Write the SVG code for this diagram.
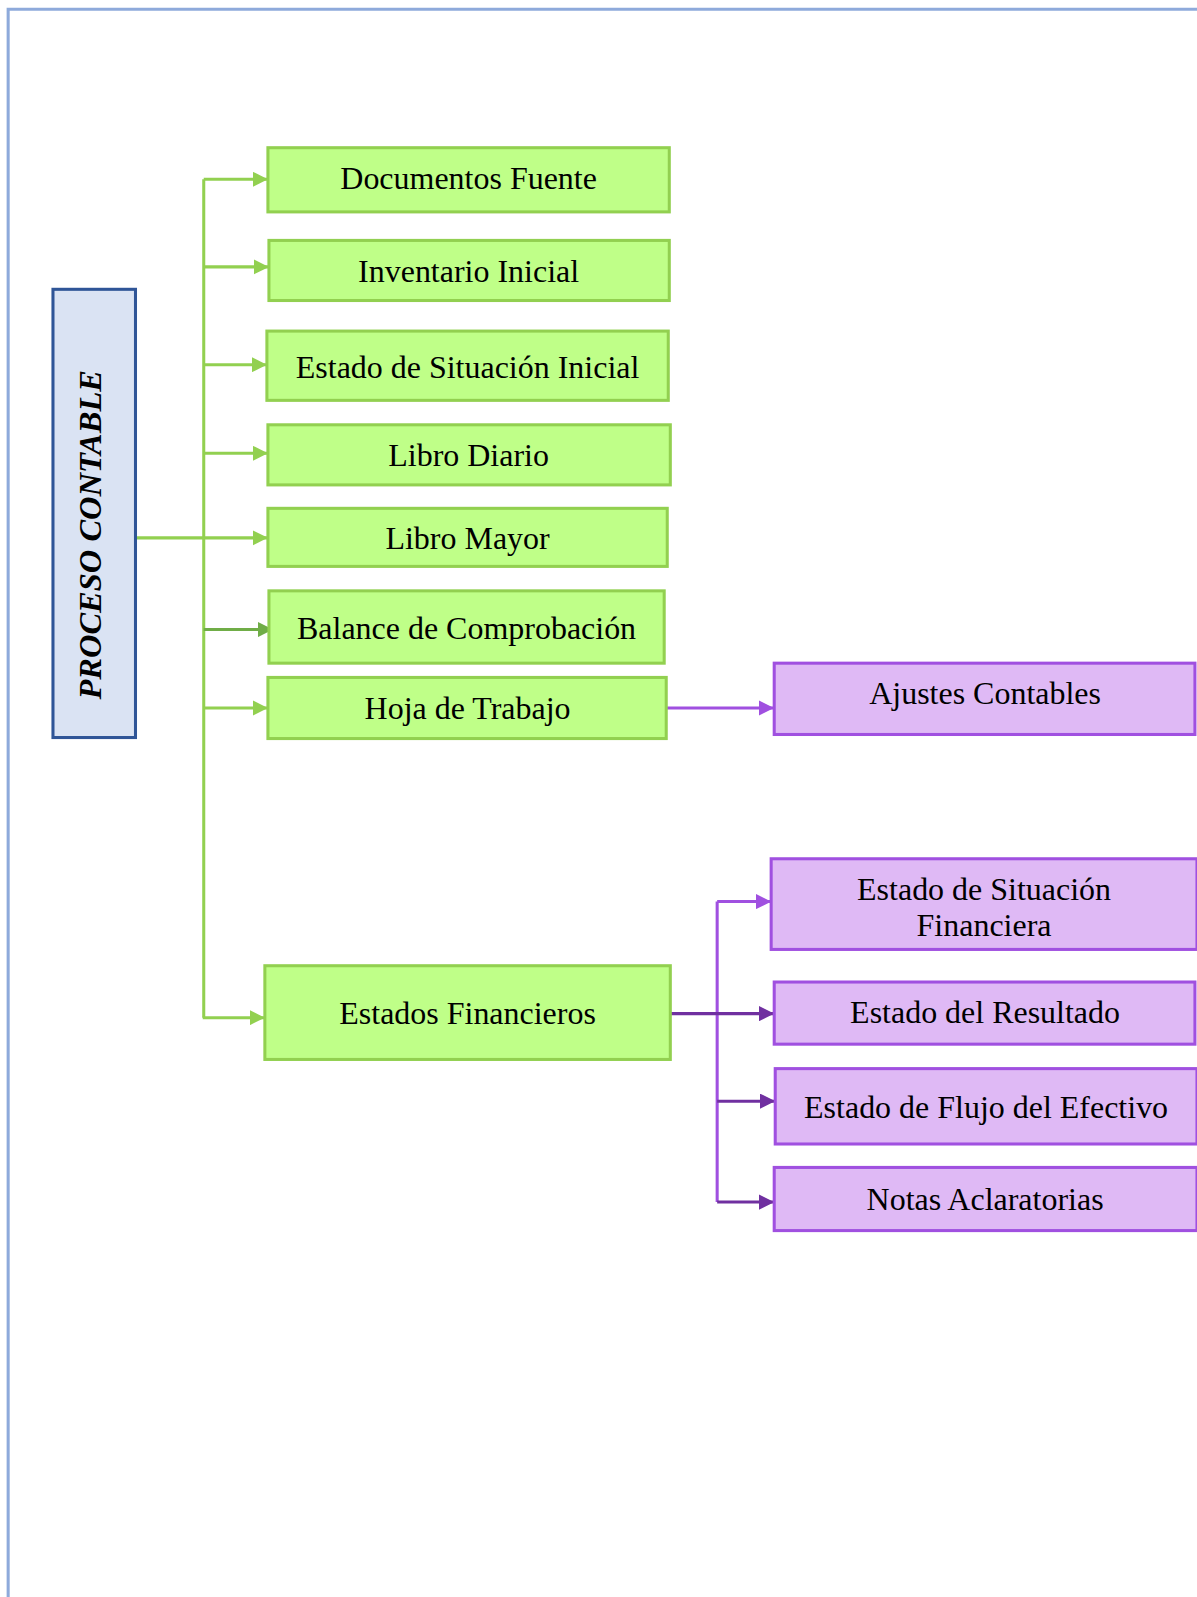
<svg xmlns="http://www.w3.org/2000/svg" width="1197" height="1597" viewBox="0 0 1197 1597">
<defs>
<style>
.g{fill:#bfff88;stroke:#92d050;stroke-width:3}
.p{fill:#dfb9f5;stroke:#a050e0;stroke-width:3}
.t{font-family:"Liberation Serif","Times New Roman",serif;font-size:31.4px;fill:#000;text-anchor:middle}
.cg{fill:none;stroke:#92d050;stroke-width:3}
.cgd{fill:none;stroke:#70ad47;stroke-width:3}
.cp{fill:none;stroke:#a050e0;stroke-width:3}
.cpd{fill:none;stroke:#7030a0;stroke-width:3}
</style>
<marker id="ag" viewBox="0 0 10 10" refX="10" refY="5" markerWidth="15" markerHeight="15" markerUnits="userSpaceOnUse" orient="auto"><path d="M0,0L10,5L0,10z" fill="#92d050"/></marker>
<marker id="agd" viewBox="0 0 10 10" refX="10" refY="5" markerWidth="15" markerHeight="15" markerUnits="userSpaceOnUse" orient="auto"><path d="M0,0L10,5L0,10z" fill="#70ad47"/></marker>
<marker id="ap" viewBox="0 0 10 10" refX="10" refY="5" markerWidth="15" markerHeight="15" markerUnits="userSpaceOnUse" orient="auto"><path d="M0,0L10,5L0,10z" fill="#a050e0"/></marker>
<marker id="apd" viewBox="0 0 10 10" refX="10" refY="5" markerWidth="15" markerHeight="15" markerUnits="userSpaceOnUse" orient="auto"><path d="M0,0L10,5L0,10z" fill="#7030a0"/></marker>
</defs>
<rect width="1197" height="1597" fill="#fff"/>
<g transform="scale(1.0187)">
<path d="M8,1570V9H1176" fill="none" stroke="#8eaadb" stroke-width="3"/>
<g id="connectors">
<path class="cg" d="M200,176V999"/>
<path class="cg" d="M200,176H263" marker-end="url(#ag)"/>
<path class="cg" d="M200,262H264" marker-end="url(#ag)"/>
<path class="cg" d="M200,358H262" marker-end="url(#ag)"/>
<path class="cg" d="M200,445H263" marker-end="url(#ag)"/>
<path class="cg" d="M133,528H263" marker-end="url(#ag)"/>
<path class="cgd" d="M200,618H268" marker-end="url(#agd)"/>
<path class="cg" d="M200,695H263" marker-end="url(#ag)"/>
<path class="cg" d="M199,999H260" marker-end="url(#ag)"/>
<path class="cp" d="M654,695H760" marker-end="url(#ap)"/>
<path class="cp" d="M704,885V1180"/>
<path class="cp" d="M704,885H757" marker-end="url(#ap)"/>
<path class="cpd" d="M658,995H760" marker-end="url(#apd)"/>
<path class="cpd" d="M704,1081H761" marker-end="url(#apd)"/>
<path class="cpd" d="M704,1180H760" marker-end="url(#apd)"/>
</g>
<g id="n-proceso"><rect x="52" y="284" width="81" height="440" fill="#dae3f3" stroke="#2f5597" stroke-width="3"/><text transform="translate(99,525) rotate(-90)" font-family="'Liberation Serif','Times New Roman',serif" font-size="31.9" font-weight="bold" font-style="italic" text-anchor="middle">PROCESO CONTABLE</text></g>
<g id="n1"><rect class="g" x="263" y="145" width="394" height="63"/><text class="t" x="460" y="186">Documentos Fuente</text></g>
<g id="n2"><rect class="g" x="264" y="236" width="393" height="59"/><text class="t" x="460" y="277">Inventario Inicial</text></g>
<g id="n3"><rect class="g" x="262" y="325" width="394" height="68"/><text class="t" x="459" y="371">Estado de Situación Inicial</text></g>
<g id="n4"><rect class="g" x="263" y="417" width="395" height="59"/><text class="t" x="460" y="457">Libro Diario</text></g>
<g id="n5"><rect class="g" x="263" y="499" width="392" height="57"/><text class="t" x="459" y="539">Libro Mayor</text></g>
<g id="n6"><rect class="g" x="264" y="580" width="388" height="71"/><text class="t" x="458" y="627">Balance de Comprobación</text></g>
<g id="n7"><rect class="g" x="263" y="665" width="391" height="60"/><text class="t" x="459" y="706">Hoja de Trabajo</text></g>
<g id="n8"><rect class="g" x="260" y="948" width="398" height="92"/><text class="t" x="459" y="1005">Estados Financieros</text></g>
<g id="n9"><rect class="p" x="760" y="651" width="413" height="70"/><text class="t" x="967" y="691">Ajustes Contables</text></g>
<g id="n10"><rect class="p" x="757" y="843" width="418" height="89"/><text class="t" x="966" y="883">Estado de Situación</text><text class="t" x="966" y="919">Financiera</text></g>
<g id="n11"><rect class="p" x="760" y="964" width="413" height="61"/><text class="t" x="967" y="1004">Estado del Resultado</text></g>
<g id="n12"><rect class="p" x="761" y="1049" width="414" height="74"/><text class="t" x="968" y="1097">Estado de Flujo del Efectivo</text></g>
<g id="n13"><rect class="p" x="760" y="1146" width="415" height="62"/><text class="t" x="967" y="1188">Notas Aclaratorias</text></g>
</g>
</svg>
